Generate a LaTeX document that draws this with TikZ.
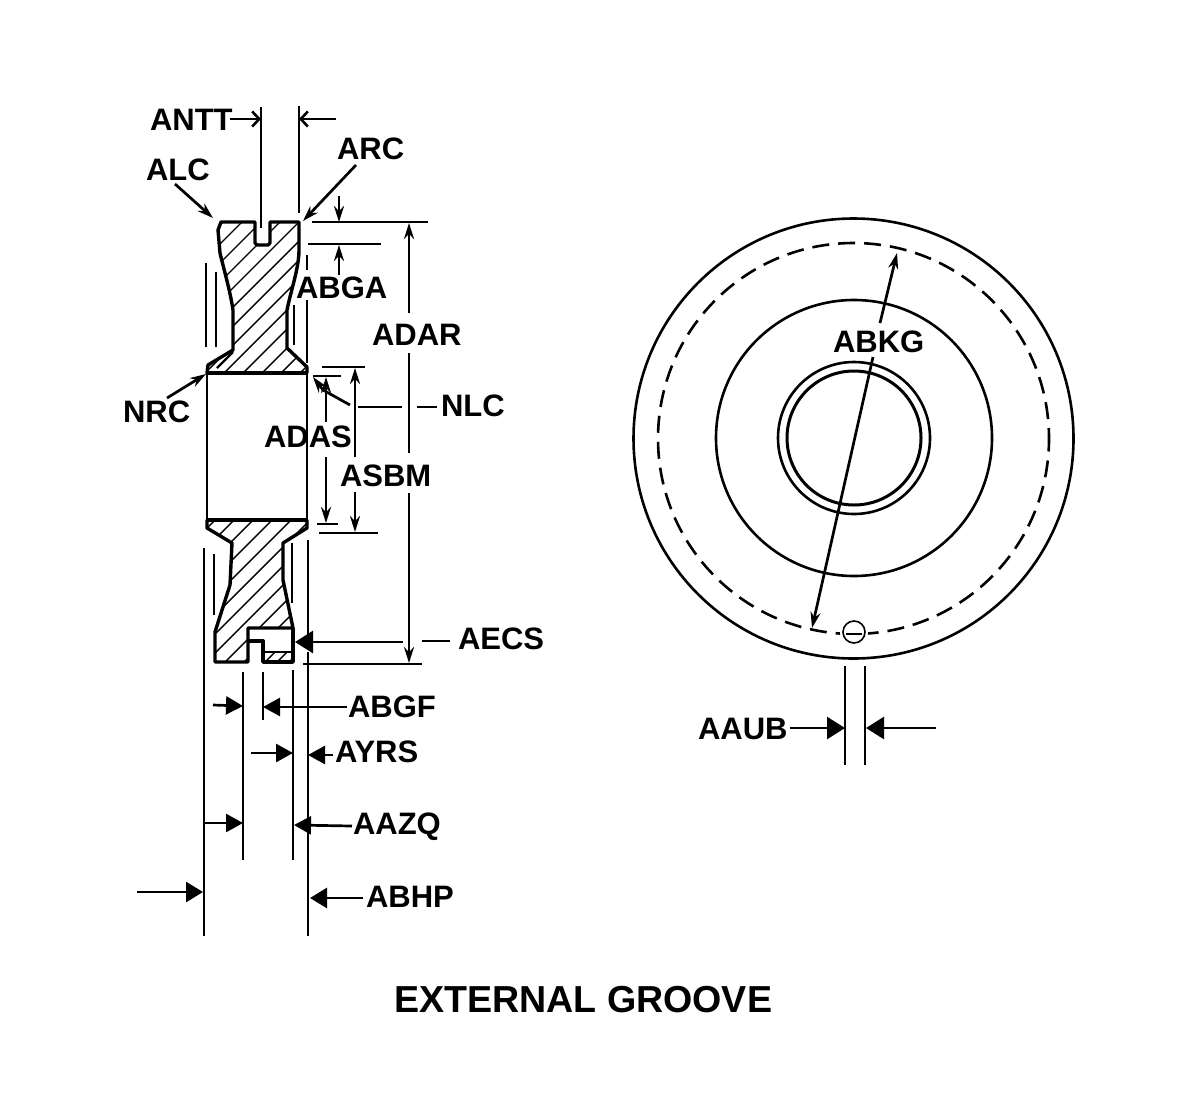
\documentclass[tikz,border=0pt]{standalone}
\usepackage{fontspec}
\setmainfont{Liberation Sans}
\usetikzlibrary{arrows.meta}
\tikzset{
  lbl/.style={anchor=base west,inner sep=0pt,outer sep=0pt,font=\fontsize{31}{31}\selectfont\bfseries},
  part/.style={line width=3.4pt,line join=round},
  ext/.style={line width=2.7pt},
  dim/.style={line width=2.7pt},
  hatch/.style={line width=1.4pt},
  circ/.style={line width=2.6pt},
  big/.style={-{Triangle[length=18pt,width=22pt]}},
  mid/.style={-{Triangle[length=17pt,width=18pt]}},
  slim/.style={-{Stealth[length=16pt,width=10pt]}},
  barb/.style={-{Straight Barb[length=7pt,width=15pt,line width=2.6pt]}}
}
\newcommand{\upperprofile}{(221,222) -- (255,222) -- (255,243) -- (257,245) -- (268,245) -- (270,243) -- (270,222) -- (299,222) -- (299,250) .. controls (299,268) and (291,290) .. (287,310) -- (287,348) -- (307,367) -- (307,373) -- (207,373) -- (208,365) -- (233,350) -- (233,310) .. controls (230,290) and (224,270) .. (220,253) -- (218,230) -- cycle}
\newcommand{\lowerprofile}{(215,662) -- (215,632) -- (230,585) -- (232,543) -- (207,528) -- (207,520) -- (307,520) -- (307,528) -- (283,543) -- (283,580) -- (293,628) -- (248,628) -- (248,662) -- cycle}
\begin{document}
\begin{tikzpicture}[x=1pt,y=-1pt]
\useasboundingbox (0,0) rectangle (1177,1106);
% hatching
\begin{scope}
  \clip \upperprofile;
  \foreach \c in {445,464,...,690}{\draw[hatch] (\c-190,190) -- (\c-400,400);}
\end{scope}
\begin{scope}
  \clip \lowerprofile;
  \foreach \c in {735,754,...,970}{\draw[hatch] (\c-190,190) -- (\c-700,700);}
\end{scope}
\begin{scope}
  \clip (263,652) rectangle (293,662);
  \foreach \c in {915,927,...,965}{\draw[hatch] (\c-640,640) -- (\c-670,670);}
\end{scope}
% part outline
\draw[part] \upperprofile;
\draw[part,line width=2.2pt] (217,368) -- (233,352);
\draw[part,line width=4.6pt] (207,373) -- (307,373);
\draw[part] \lowerprofile;
\draw[part,line width=4.6pt] (207,520) -- (307,520);
\draw[part] (293,628) -- (293,662) -- (263,662) -- (263,641) -- (248,641);
\draw[part,line width=2.2pt] (263,652) -- (293,652);
\draw[ext] (207,373) -- (207,520);
\draw[ext] (307,373) -- (307,520);
% extension lines, upper
\draw[ext] (261,107) -- (261,228);
\draw[ext] (299,106) -- (299,213);
\draw[ext] (206,263) -- (206,347);
\draw[ext] (216,272) -- (216,347);
\draw[ext] (294,305) -- (294,345);
\draw[ext] (307,255) -- (307,270);
\draw[ext] (307,300) -- (307,363);
\draw[ext] (312,222) -- (428,222);
\draw[ext] (308,244) -- (381,244);
\draw[ext] (322,367) -- (365,367);
\draw[ext] (313,376) -- (341,376);
\draw[ext] (317,524) -- (338,524);
\draw[ext] (319,533) -- (378,533);
% extension lines, lower
\draw[ext] (204,548) -- (204,936);
\draw[ext] (214,554) -- (214,615);
\draw[ext] (292,543) -- (292,603);
\draw[ext] (308,540) -- (308,637);
\draw[ext] (308,652) -- (308,936);
\draw[ext] (243,672) -- (243,860);
\draw[ext] (263,672) -- (263,720);
\draw[ext] (293,670) -- (293,860);
\draw[ext] (303,664) -- (422,664);
% labels
\node[lbl] (antt) at (150,130) {ANTT};
\node[lbl] (arc) at (337,159) {ARC};
\node[lbl] (alc) at (146,180) {ALC};
\node[lbl] (abga) at (296,298) {ABGA};
\node[lbl] (adar) at (372,345) {ADAR};
\node[lbl] (nrc) at (123,422) {NRC};
\node[lbl] (nlc) at (441,416) {NLC};
\node[lbl] (adas) at (264,447) {ADAS};
\node[lbl] (asbm) at (340,486) {ASBM};
\node[lbl] (aecs) at (458,649) {AECS};
\node[lbl] (abgf) at (348,717) {ABGF};
\node[lbl] (ayrs) at (335,762) {AYRS};
\node[lbl] (aazq) at (353,834) {AAZQ};
\node[lbl] (abhp) at (366,907) {ABHP};
\node[lbl] (abkg) at (833,352) {ABKG};
\node[lbl] (aaub) at (698,739) {AAUB};
\node[lbl,font=\fontsize{37.6}{38}\selectfont\bfseries] (title) at (394,1012) {EXTERNAL GROOVE};
% dimension arrows
\draw[dim,barb] (230,119) -- (261,119);
\draw[dim,barb] (336,119) -- (299,119);
\draw[dim,slim] (175,184) -- (213,218);
\draw[dim,slim] (356,165) -- (303,221);
\draw[dim,slim] (339,196) -- (339,222);
\draw[dim,slim] (339,275) -- (339,245);
\draw[dim,slim] (409,313) -- (409,223);
\draw[dim] (409,353) -- (409,453);
\draw[dim,slim] (409,493) -- (409,663);
\draw[dim] (358,407) -- (402,407);
\draw[dim] (417,407) -- (437,407);
\draw[dim,slim] (350,405) -- (323,390) -- (313,377);
\draw[dim,slim] (167,398) -- (206,374);
\draw[dim,slim] (326,422) -- (326,377);
\draw[dim,slim] (326,457) -- (326,523);
\draw[dim,slim] (355,457) -- (355,368);
\draw[dim,slim] (355,492) -- (355,532);
\draw[dim,big] (403,642) -- (295,642);
\draw[dim] (422,641) -- (450,641);
\draw[dim,mid] (213,705) -- (243,706);
\draw[dim,mid] (347,707) -- (263,707);
\draw[dim,mid] (251,753) -- (293,753);
\draw[dim,mid] (333,755) -- (308,755);
\draw[dim,mid] (205,823) -- (243,823);
\draw[dim,mid] (352,826) -- (294,825);
\draw[dim,-{Triangle[length=17pt,width=20pt]}] (137,892) -- (203,892);
\draw[dim,-{Triangle[length=17pt,width=20pt]}] (363,898) -- (310,898);
% end view
\draw[circ] (853.5,438.5) circle[radius=220];
\draw[circ,dash pattern=on 17pt off 9pt,dash phase=4pt] (853.5,438.5) circle[radius=195.5];
\draw[circ] (854,438) circle[radius=138];
\draw[circ] (854,438) circle[radius=76];
\draw[line width=3pt] (854,438) circle[radius=67];
\fill[white] (854,632) circle[radius=14];
\draw[line width=1.6pt] (854,632) circle[radius=11];
\draw[line width=2.4pt] (846,634) -- (862,634);
\draw[dim,slim] (880,323) -- (897,253);
\draw[dim,slim] (873,357) -- (812,628);
\draw[ext] (845,666) -- (845,765);
\draw[ext] (865,666) -- (865,765);
\draw[dim,big] (790,728) -- (845,728);
\draw[dim,big] (936,728) -- (866,728);
\end{tikzpicture}
\end{document}
